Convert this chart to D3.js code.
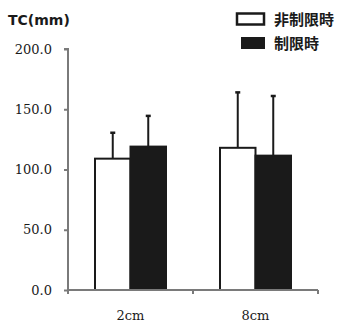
<!DOCTYPE html>
<html><head><meta charset="utf-8">
<script src="https://cdn.jsdelivr.net/npm/d3@7"></script>
<style>
html,body{margin:0;padding:0;background:#fff;}
svg{display:block;}
</style></head>
<body>
<script>
const categories = ["2cm", "8cm"];
const seriesNames = ["非制限時", "制限時"];
const meanValues = [[109, 119], [118, 111.5]]; // [category][series]
const sdValues = [[21.5, 25.5], [46, 49.5]];
const yTicks = [0, 50, 100, 150, 200];
const yTickLabels = ["0.0", "50.0", "100.0", "150.0", "200.0"];
const seriesFill = ["#ffffff", "#1a1a1a"];

const W = 337, H = 324;
const serif = "'DejaVu Serif', 'Liberation Serif', serif";
const svg = d3.select("body").append("svg").attr("width", W).attr("height", H);

const y = d3.scaleLinear().domain([0, 200]).range([290, 49]);
const x0 = d3.scaleBand().domain(categories).range([68, 318]).padding(0);
const barW = 35.5;
const x1 = d3.scaleBand().domain(seriesNames).range([x0.bandwidth()/2 - barW, x0.bandwidth()/2 + barW]).padding(0);

const axisColor = "#7a7a7a";

const rows = [];
categories.forEach((c, i) => seriesNames.forEach((s, j) => rows.push({c, s, j, v: meanValues[i][j], sd: sdValues[i][j]})));

const g = svg.append("g");
g.selectAll("line.err").data(rows).join("line")
  .attr("x1", d => x0(d.c) + x1(d.s) + x1.bandwidth()/2)
  .attr("x2", d => x0(d.c) + x1(d.s) + x1.bandwidth()/2)
  .attr("y1", d => y(d.v)).attr("y2", d => y(d.v + d.sd))
  .attr("stroke", "#1a1a1a").attr("stroke-width", 2);
g.selectAll("line.cap").data(rows).join("line")
  .attr("x1", d => x0(d.c) + x1(d.s) + x1.bandwidth()/2 - 2.5)
  .attr("x2", d => x0(d.c) + x1(d.s) + x1.bandwidth()/2 + 2.5)
  .attr("y1", d => y(d.v + d.sd)).attr("y2", d => y(d.v + d.sd))
  .attr("stroke", "#1a1a1a").attr("stroke-width", 2.5);

g.selectAll("rect.bar").data(rows).join("rect")
  .attr("x", d => x0(d.c) + x1(d.s))
  .attr("y", d => y(d.v))
  .attr("width", x1.bandwidth())
  .attr("height", d => y(0) - y(d.v))
  .attr("fill", d => seriesFill[d.j])
  .attr("stroke", "#1a1a1a").attr("stroke-width", 2);

const yAxis = d3.axisLeft(y).tickValues(yTicks).tickFormat((d, i) => yTickLabels[i]).tickSize(4).tickPadding(12);
const ya = svg.append("g").attr("transform", "translate(68,0)").call(yAxis);
ya.select(".domain").attr("stroke", axisColor).attr("stroke-width", 2).attr("d", `M-4,${y(200)}H0V${y(0)+4}`);
ya.selectAll(".tick line").attr("stroke", axisColor).attr("stroke-width", 2);
ya.selectAll(".tick text").attr("font-family", serif).attr("font-size", 13).attr("fill", "#1a1a1a");

const xa = svg.append("g").attr("transform", `translate(0,${y(0)})`);
xa.append("line").attr("x1", 68).attr("x2", 318).attr("y1", 0).attr("y2", 0).attr("stroke", axisColor).attr("stroke-width", 2);
const bounds = [x0(categories[1]), x0(categories[1]) + x0.bandwidth()];
xa.selectAll("line.xt").data(bounds).join("line")
  .attr("x1", d => d).attr("x2", d => d).attr("y1", 0).attr("y2", 4)
  .attr("stroke", axisColor).attr("stroke-width", 2);
xa.selectAll("text").data(categories).join("text")
  .attr("x", d => x0(d) + x0.bandwidth()/2)
  .attr("y", 30).attr("text-anchor", "middle")
  .attr("font-family", serif).attr("font-size", 13).attr("fill", "#1a1a1a")
  .text(d => d);

svg.append("text").attr("x", 8).attr("y", 25)
  .attr("font-family", "'DejaVu Sans', sans-serif").attr("font-weight", "bold").attr("font-size", 14).attr("fill", "#1a1a1a")
  .text("TC(mm)");

const leg = svg.append("g");
leg.append("rect").attr("x", 237).attr("y", 13.5).attr("width", 27).attr("height", 11)
  .attr("fill", seriesFill[0]).attr("stroke", "#1a1a1a").attr("stroke-width", 2.5);
leg.append("rect").attr("x", 241).attr("y", 37).attr("width", 24).attr("height", 12)
  .attr("fill", seriesFill[1]);
leg.selectAll("text").data(seriesNames).join("text")
  .attr("x", 274).attr("y", (d, i) => i === 0 ? 25 : 49)
  .attr("font-family", "'Noto Sans CJK JP'").attr("font-weight", "bold").attr("font-size", 15).attr("fill", "#1a1a1a")
  .text(d => d);
</script>
</body></html>
